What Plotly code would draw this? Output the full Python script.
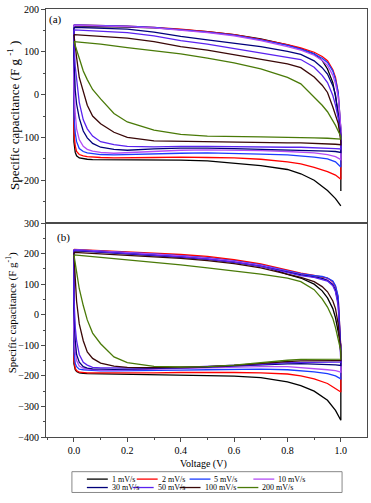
import plotly.graph_objects as go

rates = ["1 mV/s", "2 mV/s", "5 mV/s", "10 mV/s", "30 mV/s", "50 mV/s", "100 mV/s", "200 mV/s"]
colors = ["#000000", "#ff0000", "#1a3cff", "#b44cf5", "#00007a", "#5a22f0", "#3a0808", "#4a7a08"]

# voltage grids (V)
V_up = [0.0, 0.1, 0.2, 0.3, 0.4, 0.5, 0.6, 0.7, 0.8, 0.85, 0.9, 0.93, 0.95, 0.97, 0.98, 0.99, 1.0]
V_low = [1.0, 0.98, 0.95, 0.9, 0.85, 0.8, 0.7, 0.6, 0.5, 0.4, 0.3, 0.2, 0.15, 0.1, 0.07, 0.05,
         0.035, 0.02, 0.01, 0.005, 0.0]

# panel (a) - anodic branch
a_up_1 = [158, 159, 158, 156, 152, 147, 140, 130, 116, 107, 95, 80, 60, 28, -5, -45, -100]
a_up_2 = [163, 162, 160, 157, 153, 147, 140, 129, 117, 109, 99, 89, 79, 58, 40, 5, -83]
a_up_5 = [163, 162, 160, 157, 152, 146, 139, 128, 115, 106, 95, 85, 75, 55, 35, 5, -80]
a_up_10 = [162, 161, 159, 156, 151, 145, 137, 126, 112, 104, 92, 80, 68, 45, 25, -5, -80]
a_up_30 = [157, 155, 153, 146, 136, 128, 120, 112, 101, 94, 79, 63, 48, 21, 0, -44, -95]
a_up_50 = [151, 148, 145, 137, 126, 118, 108, 98, 88, 82, 64, 45, 28, -2, -25, -54, -100]
a_up_100 = [140, 136, 132, 124, 112, 104, 93, 82, 72, 63, 41, 22, 5, -29, -48, -67, -110]
a_up_200 = [124, 118, 110, 103, 95, 85, 74, 60, 40, 25, -5, -25, -40, -60, -72, -85, -98]
a_drop_1 = -225

# panel (a) - cathodic branch
a_low_1 = [-260, -243, -224, -200, -185, -175, -166, -160, -155, -153, -153, -153, -153, -152, -152, -151, -150, -148, -143, -135, -110]
a_low_2 = [-198, -188, -180, -170, -162, -157, -151, -148, -147, -146, -147, -148, -148, -147, -146, -145, -143, -140, -133, -120, -90]
a_low_5 = [-169, -157, -150, -146, -143, -141, -139, -137, -136, -137, -139, -141, -141, -140, -138, -136, -133, -126, -110, -90, -50]
a_low_10 = [-152, -145, -140, -136, -134, -133, -131, -130, -129, -130, -133, -137, -137, -135, -132, -128, -121, -105, -80, -44, 20]
a_low_30 = [-135, -133, -132, -131, -130, -129, -127, -126, -125, -125, -127, -130, -128, -123, -114, -101, -85, -55, -22, 10, 90]
a_low_50 = [-127, -126, -125, -124, -123, -123, -122, -122, -121, -121, -122, -121, -117, -110, -97, -80, -59, -18, 30, 65, 120]
a_low_100 = [-117, -116, -115, -114, -113, -113, -112, -111, -111, -110, -108, -100, -88, -68, -50, -25, 5, 40, 87, 115, 140]
a_low_200 = [-104, -103, -102, -101, -100, -100, -99, -98, -97, -93, -83, -64, -44, -10, 12, 35, 55, 85, 105, 115, 124]

# panel (b) - anodic branch
b_up_1 = [210, 207, 203, 198, 193, 187, 177, 162, 132, 120, 100, 78, 55, 20, -10, -50, -100]
b_up_2 = [214, 210, 206, 201, 197, 191, 180, 166, 146, 136, 129, 125, 120, 108, 92, 55, -110]
b_up_5 = [213, 209, 204, 199, 193, 186, 176, 163, 143, 134, 128, 125, 120, 110, 95, 60, -115]
b_up_10 = [212, 208, 203, 198, 192, 185, 175, 161, 141, 132, 125, 120, 114, 100, 80, 40, -120]
b_up_30 = [210, 205, 200, 195, 188, 181, 171, 158, 138, 130, 124, 119, 112, 98, 80, 40, -120]
b_up_50 = [211, 206, 201, 195, 189, 182, 172, 158, 137, 128, 122, 116, 110, 95, 75, 30, -125]
b_up_100 = [204, 199, 195, 190, 184, 177, 167, 153, 132, 122, 108, 92, 75, 45, 20, -30, -130]
b_up_200 = [196, 188, 180, 172, 163, 153, 143, 133, 120, 108, 82, 52, 25, -12, -42, -80, -118]

# panel (b) - cathodic branch
b_low_1 = [-345, -313, -280, -250, -232, -220, -206, -201, -199, -198, -197, -196, -196, -195, -194, -193, -192, -190, -186, -180, -160]
b_low_2 = [-253, -242, -225, -210, -200, -194, -190, -189, -188, -189, -190, -191, -191, -191, -190, -190, -189, -188, -183, -175, -150]
b_low_5 = [-210, -200, -193, -187, -183, -180, -178, -178, -180, -181, -183, -184, -184, -184, -183, -182, -180, -178, -170, -160, -120]
b_low_10 = [-188, -183, -180, -176, -173, -170, -170, -172, -175, -178, -180, -181, -181, -181, -180, -178, -175, -168, -150, -120, -50]
b_low_30 = [-166, -164, -163, -161, -160, -161, -165, -168, -171, -174, -177, -178, -179, -179, -177, -175, -170, -155, -130, -85, 20]
b_low_50 = [-155, -155, -155, -155, -155, -157, -162, -166, -170, -172, -174, -175, -175, -174, -172, -165, -156, -130, -85, -40, 60]
b_low_100 = [-150, -150, -150, -150, -151, -153, -160, -166, -170, -172, -173, -172, -168, -158, -143, -122, -85, -30, 44, 120, 204]
b_low_200 = [-145, -145, -145, -145, -146, -149, -158, -165, -170, -171, -169, -157, -138, -95, -60, -17, 30, 85, 140, 170, 196]

a_up = [a_up_1, a_up_2, a_up_5, a_up_10, a_up_30, a_up_50, a_up_100, a_up_200]
a_low = [a_low_1, a_low_2, a_low_5, a_low_10, a_low_30, a_low_50, a_low_100, a_low_200]
b_up = [b_up_1, b_up_2, b_up_5, b_up_10, b_up_30, b_up_50, b_up_100, b_up_200]
b_low = [b_low_1, b_low_2, b_low_5, b_low_10, b_low_30, b_low_50, b_low_100, b_low_200]

FONT = "Liberation Serif"
fig = go.Figure()

for i, name in enumerate(rates):
    up, low = a_up[i], a_low[i]
    if i == 0:
        xs = V_up + [1.0, None] + V_low + [0.0]
        ys = up + [a_drop_1, None] + low + [up[0]]
    else:
        xs = V_up + V_low + [0.0]
        ys = up + low + [up[0]]
    fig.add_trace(go.Scatter(x=xs, y=ys, mode="lines", name=name, showlegend=False,
                             line=dict(color=colors[i], width=1.3), xaxis="x", yaxis="y"))
for i, name in enumerate(rates):
    up, low = b_up[i], b_low[i]
    xs = V_up + V_low + [0.0]
    ys = up + low + [up[0]]
    fig.add_trace(go.Scatter(x=xs, y=ys, mode="lines", name=name, showlegend=False,
                             line=dict(color=colors[i], width=1.3), xaxis="x2", yaxis="y2"))

W, H = 371, 503
L, R, T, B = 46, 3, 5, 66
pw, ph = W - L - R, H - T - B


def px(xp):
    return (xp - L) / pw


def py(yp):
    return (H - B - yp) / ph


axcol = "#4a4a4a"
tickfont = dict(family=FONT, size=10, color="#000")
xr = [-0.1046, 1.098]

fig.update_layout(
    width=W, height=H, margin=dict(l=L, r=R, t=T, b=B),
    paper_bgcolor="white", plot_bgcolor="white",
    font=dict(family=FONT, color="#000"),
    showlegend=False,
    xaxis=dict(domain=[0, 1], range=xr, anchor="y", showline=True, mirror=True, linecolor=axcol,
               linewidth=1, ticks="", showticklabels=False, showgrid=False, zeroline=False),
    yaxis=dict(domain=[0.5, 1], range=[-300, 200], anchor="x", showline=True, mirror=True,
               linecolor=axcol, linewidth=1, ticks="outside", ticklen=4, tickcolor=axcol,
               tickvals=[-200, -100, 0, 100, 200], tickfont=tickfont, showgrid=False, zeroline=False,
               minor=dict(tickvals=[-250, -150, -50, 50, 150], ticks="outside", ticklen=2, tickcolor=axcol)),
    xaxis2=dict(domain=[0, 1], range=xr, anchor="y2", showline=True, mirror=True, linecolor=axcol,
                linewidth=1, ticks="outside", ticklen=4, tickcolor=axcol,
                tickvals=[0, 0.2, 0.4, 0.6, 0.8, 1.0], tickformat=".1f", tickfont=tickfont,
                showgrid=False, zeroline=False,
                minor=dict(tickvals=[-0.1, 0.1, 0.3, 0.5, 0.7, 0.9], ticks="outside", ticklen=2, tickcolor=axcol)),
    yaxis2=dict(domain=[0, 0.5], range=[-400, 300], anchor="x2", showline=True, mirror=True,
                linecolor=axcol, linewidth=1, ticks="outside", ticklen=4, tickcolor=axcol,
                tickvals=[-400, -300, -200, -100, 0, 100, 200, 300], tickfont=tickfont,
                showgrid=False, zeroline=False,
                minor=dict(tickvals=[-350, -250, -150, -50, 50, 150, 250], ticks="outside", ticklen=2, tickcolor=axcol)),
)

ann = []
ann.append(dict(text="Specific capacitance (F g <sup>-1</sup> )", x=px(13), y=py(113), xref="paper", yref="paper",
                textangle=-90, showarrow=False, font=dict(family=FONT, size=13, color="#000"),
                xanchor="center", yanchor="middle"))
ann.append(dict(text="Specific capacitance (F g<sup>-1</sup>)", x=px(11), y=py(312), xref="paper", yref="paper",
                textangle=-90, showarrow=False, font=dict(family=FONT, size=11, color="#000"),
                xanchor="center", yanchor="middle"))
ann.append(dict(text="(a)", x=px(56), y=py(16), xref="paper", yref="paper", showarrow=False,
                font=dict(family=FONT, size=11, color="#000"), xanchor="center", yanchor="middle"))
ann.append(dict(text="(b)", x=px(64), y=py(236), xref="paper", yref="paper", showarrow=False,
                font=dict(family=FONT, size=11, color="#000"), xanchor="center", yanchor="middle"))
ann.append(dict(text="Voltage (V)", x=px(204), y=py(464), xref="paper", yref="paper", showarrow=False,
                font=dict(family=FONT, size=10, color="#000"), xanchor="center", yanchor="middle"))

shapes = []
shapes.append(dict(type="rect", xref="paper", yref="paper", x0=px(72), x1=px(343), y0=py(472), y1=py(493),
                   line=dict(color="#888", width=1), fillcolor="rgba(0,0,0,0)"))
row_y = [479.5, 488]
line_x0 = [87, 137, 190, 254, 87, 133, 180, 238]
for i, name in enumerate(rates):
    r = 0 if i < 4 else 1
    x0 = line_x0[i]
    shapes.append(dict(type="line", xref="paper", yref="paper", x0=px(x0), x1=px(x0 + 21),
                       y0=py(row_y[r]), y1=py(row_y[r]), line=dict(color=colors[i], width=1.3)))
    ann.append(dict(text=name, x=px(x0 + 23), y=py(row_y[r]), xref="paper", yref="paper", showarrow=False,
                    font=dict(family=FONT, size=8, color="#000"), xanchor="left", yanchor="middle"))

fig.update_layout(annotations=ann, shapes=shapes)
fig.write_html("out.html", config={"displayModeBar": False},
               post_script="document.body.style.margin='0px';document.body.style.padding='0px';")
